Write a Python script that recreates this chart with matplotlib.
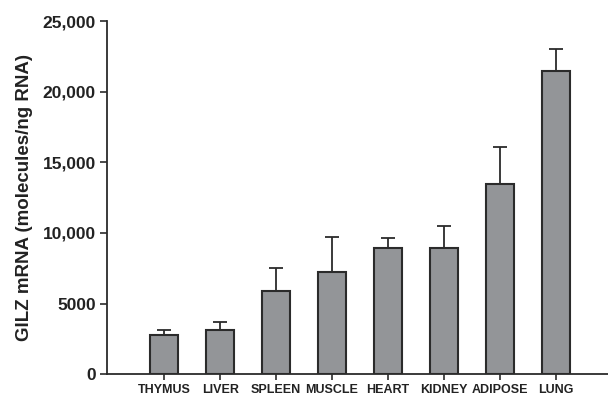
import matplotlib
matplotlib.use("Agg")
import matplotlib.pyplot as plt
import numpy as np
from matplotlib.ticker import FuncFormatter

plt.rcParams['font.family'] = ['Liberation Sans', 'DejaVu Sans']
plt.rcParams['font.weight'] = 'bold'

# ================= DATA =================
tissues = ["THYMUS", "LIVER", "SPLEEN", "MUSCLE", "HEART", "KIDNEY", "ADIPOSE", "LUNG"]
means = [2750, 3140, 5860, 7250, 8900, 8900, 13460, 21500]
errors = [350, 560, 1630, 2450, 750, 1600, 2600, 1500]
yticks = [0, 5000, 10000, 15000, 20000, 25000]

# ================= PLOT =================
fig = plt.figure(figsize=(6.08, 3.98), dpi=100)
ax = fig.add_axes([0.176, 0.06, 0.824, 0.887])

x = np.arange(len(tissues))
ax.bar(x, means, width=0.5, color="#939598", edgecolor="#2b2b2b", linewidth=1.5, zorder=2)
ax.errorbar(x, means, yerr=[np.zeros(len(errors)), errors], fmt="none",
            ecolor="#2b2b2b", elinewidth=1.3, capsize=5, capthick=1.3, zorder=1)

ax.set_xlim(-1.02, 7.93)
ax.set_ylim(0, 25000)
ax.set_xticks(x)
ax.set_xticklabels(tissues, fontsize=9, fontweight="bold")
ax.set_yticks(yticks)
ax.yaxis.set_major_formatter(FuncFormatter(lambda v, p: "0" if v == 0 else ("5000" if v == 5000 else f"{int(v):,}")))
ax.tick_params(axis="y", labelsize=12.5, length=5, width=1.2, colors="#2b2b2b", labelcolor="#222222", pad=3)
ax.tick_params(axis="x", length=4, width=1.2, colors="#2b2b2b", labelcolor="#222222", pad=3)
for lbl in ax.get_yticklabels():
    lbl.set_fontweight("bold")

ax.set_ylabel("GILZ mRNA (molecules/ng RNA)", fontsize=13.5, fontweight="bold", color="#222222", labelpad=7)

ax.spines["top"].set_visible(False)
ax.spines["right"].set_visible(False)
ax.spines["left"].set_linewidth(1.3)
ax.spines["bottom"].set_linewidth(1.3)
ax.spines["left"].set_color("#2b2b2b")
ax.spines["bottom"].set_color("#2b2b2b")

fig.savefig("out.png", dpi=100)
